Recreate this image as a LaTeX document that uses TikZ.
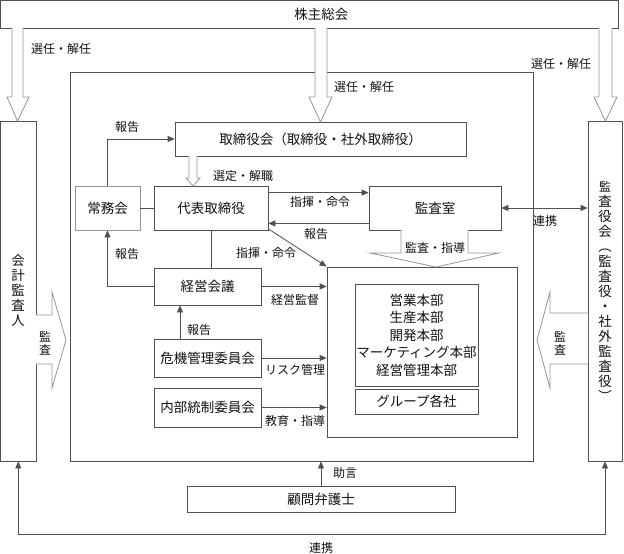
\documentclass[tikz,border=0pt]{standalone}
\usepackage{fontspec}
\setmainfont{Noto Sans CJK JP}
\usetikzlibrary{arrows.meta}
\definecolor{ln}{HTML}{505050}
\definecolor{lg}{HTML}{959595}
\definecolor{tx}{HTML}{111111}
\begin{document}
\begin{tikzpicture}[x=1pt,y=-1pt,
  box/.style={draw=ln, line width=0.8pt, fill=white, inner sep=0pt, text=tx,
              font=\fontsize{13.5}{15}\selectfont},
  vbox/.style={box, align=center},
  lbl/.style={inner sep=0pt, text=tx, font=\fontsize{12}{13}\selectfont},
  con/.style={draw=ln, line width=0.8pt},
  arr/.style={con, -{Triangle[length=7pt,width=6pt]}},
  darr/.style={con, {Triangle[length=7pt,width=6pt]}-{Triangle[length=7pt,width=6pt]}},
  hollow/.style={draw=lg, line width=0.8pt, fill=white},
]
\useasboundingbox (0,0) rectangle (624,554);

% main frame
\node[draw=ln, line width=0.8pt, inner sep=0pt, minimum width=463pt, minimum height=389pt] (frame) at (301.5,266.5) {};

% boxes
\node[box, minimum width=617.5pt, minimum height=27.5pt] (sh) at (309.25,14.25) {\hspace*{24pt}株主総会};
\node[vbox, minimum width=35.5pt, minimum height=340pt] (kaikei) at (18.25,291) {\fontsize{13}{14}\selectfont 会\\計\\監\\査\\人};
\node[vbox, minimum width=34pt, minimum height=340pt] (kansayaku) at (605,291) {\fontsize{12}{12.6}\selectfont 監\\査\\役\\会\\︵\\監\\査\\役\\・\\社\\外\\監\\査\\役\\︶};
\node[box, minimum width=291pt, minimum height=34pt] (tori) at (320.5,139) {取締役会（取締役・社外取締役）};
\node[box, draw=lg, minimum width=65pt, minimum height=44pt] (jomu) at (107.5,208) {常務会};
\node[box, minimum width=114pt, minimum height=44pt] (daihyo) at (211,208) {代表取締役};
\node[box, minimum width=132pt, minimum height=44pt] (kansashitsu) at (435,208) {監査室};
\node[box, minimum width=107pt, minimum height=37pt] (keiei) at (207.5,286.5) {経営会議};
\node[box, minimum width=107pt, minimum height=38pt] (kiki) at (207.5,358) {危機管理委員会};
\node[box, minimum width=107pt, minimum height=39pt] (naibu) at (207.5,407.5) {内部統制委員会};
\node[box, minimum width=190pt, minimum height=170pt] (ops) at (422,352) {};
\node[box, align=center, minimum width=123pt, minimum height=102pt, font=\fontsize{13.5}{17.5}\selectfont] (depts) at (416.5,335) {営業本部\\生産本部\\開発本部\\マーケティング本部\\経営管理本部};
\node[box, minimum width=123pt, minimum height=25pt] (group) at (416.5,401.5) {グループ各社};
\node[box, minimum width=268pt, minimum height=26pt] (komon) at (321,499) {顧問弁護士};

% hollow arrows
\draw[hollow] (12,28) -- (12,97) -- (7,97) -- (17.5,121) -- (29,97) -- (23,97) -- (23,28);
\draw[hollow] (315,28) -- (315,97) -- (309,97) -- (320.5,122) -- (332,97) -- (327,97) -- (327,28);
\draw[hollow] (599,28) -- (599,97) -- (594,97) -- (605.5,121) -- (617,97) -- (612,97) -- (612,28);
\draw[hollow] (189,156) -- (189,178) -- (186,178) -- (193,186) -- (200,178) -- (197,178) -- (197,156);
\draw[hollow] (401,230) -- (401,253) -- (370,253) -- (436,267) -- (499,253) -- (468,253) -- (468,230);
\draw[hollow] (36,315) -- (52,315) -- (52,292) -- (66,340) -- (52,388) -- (52,364) -- (36,364);
\draw[hollow] (588,313) -- (550,313) -- (550,292) -- (537,340) -- (550,388) -- (550,364) -- (588,364);

% connectors
\draw[arr] (jomu.north) |- (tori.west);
\draw[con] (jomu.east) -- (daihyo.west);
\draw[arr] ([yshift=-7pt]daihyo.north east) -- ([yshift=-7pt]kansashitsu.north west);
\draw[arr] ([yshift=7pt]kansashitsu.south west) -- ([yshift=7pt]daihyo.south east);
\draw[arr] ([yshift=1.5pt]daihyo.south east) -- (ops.north west);
\draw[con] (daihyo.south) -- (daihyo.south |- keiei.north);
\draw[arr] (keiei.west) -| (jomu.south);
\draw[arr] (keiei.east) -- (keiei.east -| ops.west);
\draw[arr] ([xshift=-27.5pt]kiki.north) -- ([xshift=-27.5pt]keiei.south);
\draw[arr] (kiki.east) -- (kiki.east -| ops.west);
\draw[arr] (naibu.east) -- (naibu.east -| ops.west);
\draw[darr] (kansashitsu.east) -- (kansashitsu.east -| kansayaku.west);
\draw[arr] (komon.north) -- (komon.north |- frame.south);
\coordinate (bot) at (321,534);
\draw[darr] (kaikei.south) -- (kaikei.south |- bot) -- (kansayaku.south |- bot) -- (kansayaku.south);

% labels
\node[lbl] (lsenL) at (61,49) {選任・解任};
\node[lbl] (lsenM) at (364,87) {選任・解任};
\node[lbl] (lsenR) at (561,64) {選任・解任};
\node[lbl] (lhok1) at (127,127) {報告};
\node[lbl] (lsentei) at (243,176) {選定・解職};
\node[lbl] (lshiki1) at (320,202) {指揮・命令};
\node[lbl] (lhok2) at (316,234) {報告};
\node[lbl] (lshiki2) at (266,253) {指揮・命令};
\node[lbl] (lhok3) at (127,254) {報告};
\node[lbl] (lkantoku) at (295,300) {経営監督};
\node[lbl] (lhok4) at (199,330) {報告};
\node[lbl] (lrisk) at (295,370) {リスク管理};
\node[lbl] (lkyoiku) at (295,421) {教育・指導};
\node[lbl] (lrenkei1) at (545,221) {連携};
\node[lbl] (ljogen) at (345,473) {助言};
\node[lbl] (lrenkei2) at (321,548) {連携};
\node[lbl, fill=white, inner sep=0.5pt] (lkansashido) at (435,248) {監査・指導};
\node[lbl, align=center] (lkansaL) at (45,343) {監\\査};
\node[lbl, align=center] (lkansaR) at (560,343) {監\\査};
\end{tikzpicture}
\end{document}
